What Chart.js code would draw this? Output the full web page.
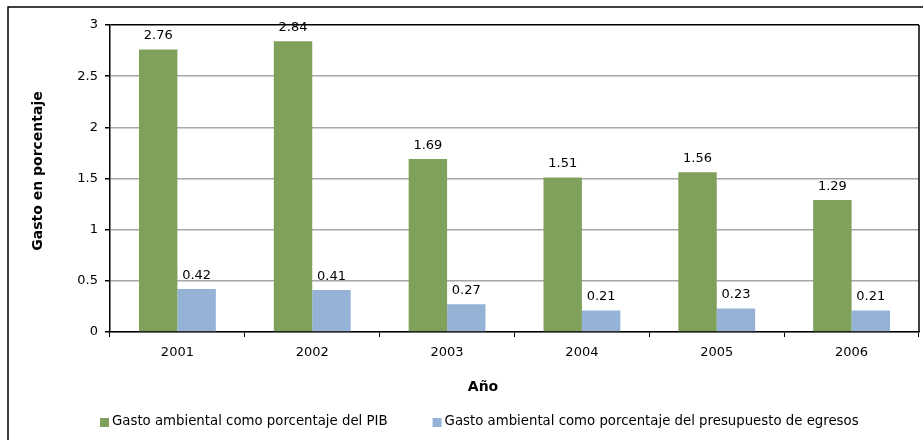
<!DOCTYPE html>
<html>
<head>
<meta charset="utf-8">
<script src="https://cdn.jsdelivr.net/npm/chart.js@4"></script>
<style>
  html, body { margin: 0; padding: 0; background: #fff; }
</style>
</head>
<body>
<canvas id="gastoChart" width="923" height="440"></canvas>
<script>
var years = ["2001", "2002", "2003", "2004", "2005", "2006"];
var pibValues = [2.76, 2.84, 1.69, 1.51, 1.56, 1.29];
var presupuestoValues = [0.42, 0.41, 0.27, 0.21, 0.23, 0.21];
var seriesNames = [
  "Gasto ambiental como porcentaje del PIB",
  "Gasto ambiental como porcentaje del presupuesto de egresos",
];
var yTitle = "Gasto en porcentaje";
var xTitle = "Año";
var barColors = ["#80A15B", "#95B3D7"];
var fontName = "'DejaVu Sans', sans-serif";

// value above every bar
var valueLabels = {
  id: "valueLabels",
  afterDatasetsDraw(chart) {
    var ctx = chart.ctx;
    ctx.save();
    ctx.font = "13px " + fontName;
    ctx.fillStyle = "#000";
    ctx.textAlign = "center";
    ctx.textBaseline = "bottom";
    chart.data.datasets.forEach(function (ds, i) {
      chart.getDatasetMeta(i).data.forEach(function (bar, j) {
        ctx.fillText(ds.data[j].toFixed(2), bar.x, bar.y - 7);
      });
    });
    ctx.restore();
  },
};

// outer box, right side of the plot, axis titles and the legend row
var frameAndLegend = {
  id: "frameAndLegend",
  afterDraw(chart) {
    var ctx = chart.ctx;
    var area = chart.chartArea;
    ctx.save();
    ctx.strokeStyle = "#000";
    ctx.lineWidth = 1.5;
    ctx.beginPath();
    ctx.moveTo(8, 440);
    ctx.lineTo(8, 7);
    ctx.lineTo(923, 7);
    ctx.stroke();
    ctx.beginPath();
    ctx.moveTo(area.right, area.top);
    ctx.lineTo(area.right, area.bottom);
    ctx.stroke();

    ctx.fillStyle = "#000";
    ctx.font = "bold 14px " + fontName;
    ctx.textAlign = "center";
    ctx.textBaseline = "middle";
    ctx.fillText(xTitle, 483, 387);
    ctx.save();
    ctx.translate(38, 171);
    ctx.rotate(-Math.PI / 2);
    ctx.fillText(yTitle, 0, 0);
    ctx.restore();

    ctx.font = "13.3px " + fontName;
    ctx.textAlign = "left";
    var x = 100;
    chart.data.datasets.forEach(function (ds) {
      ctx.fillStyle = ds.backgroundColor;
      ctx.fillRect(x, 418, 9, 9);
      ctx.fillStyle = "#000";
      ctx.fillText(ds.label, x + 12, 422);
      x += 12 + ctx.measureText(ds.label).width + 45;
    });
    ctx.restore();
  },
};

new Chart("gastoChart", {
  type: "bar",
  data: {
    labels: years,
    datasets: [
      {
        label: seriesNames[0],
        data: pibValues,
        backgroundColor: barColors[0],
      },
      {
        label: seriesNames[1],
        data: presupuestoValues,
        backgroundColor: barColors[1],
      },
    ],
  },
  options: {
    responsive: false,
    animation: false,
    categoryPercentage: 0.57,
    barPercentage: 1.0,
    layout: { padding: { left: 0, top: 25, right: 4, bottom: 0 } },
    plugins: {
      legend: { display: false },
      tooltip: { enabled: false },
    },
    scales: {
      x: {
        afterFit(scale) { scale.height = 108; },
        grid: {
          offset: true,
          drawOnChartArea: false,
          color: "#000",
          tickLength: 5,
        },
        border: { color: "#000", width: 1.5 },
        ticks: { color: "#000", padding: 8, font: { family: fontName, size: 13 } },
      },
      y: {
        min: 0,
        max: 3,
        afterFit(scale) { scale.width = 110; },
        ticks: {
          stepSize: 0.5,
          color: "#000",
          padding: 7,
          font: { family: fontName, size: 13 },
          callback: function (v) { return String(+v.toFixed(1)); },
        },
        grid: {
          color: function (c) { return c.tick && c.tick.value === 3 ? "#000" : "#A6A6A6"; },
          lineWidth: 1.5,
          tickColor: "#000",
          tickLength: 5,
        },
        border: { color: "#000", width: 1.5 },
      },
    },
  },
  plugins: [valueLabels, frameAndLegend],
});
</script>
</body>
</html>
